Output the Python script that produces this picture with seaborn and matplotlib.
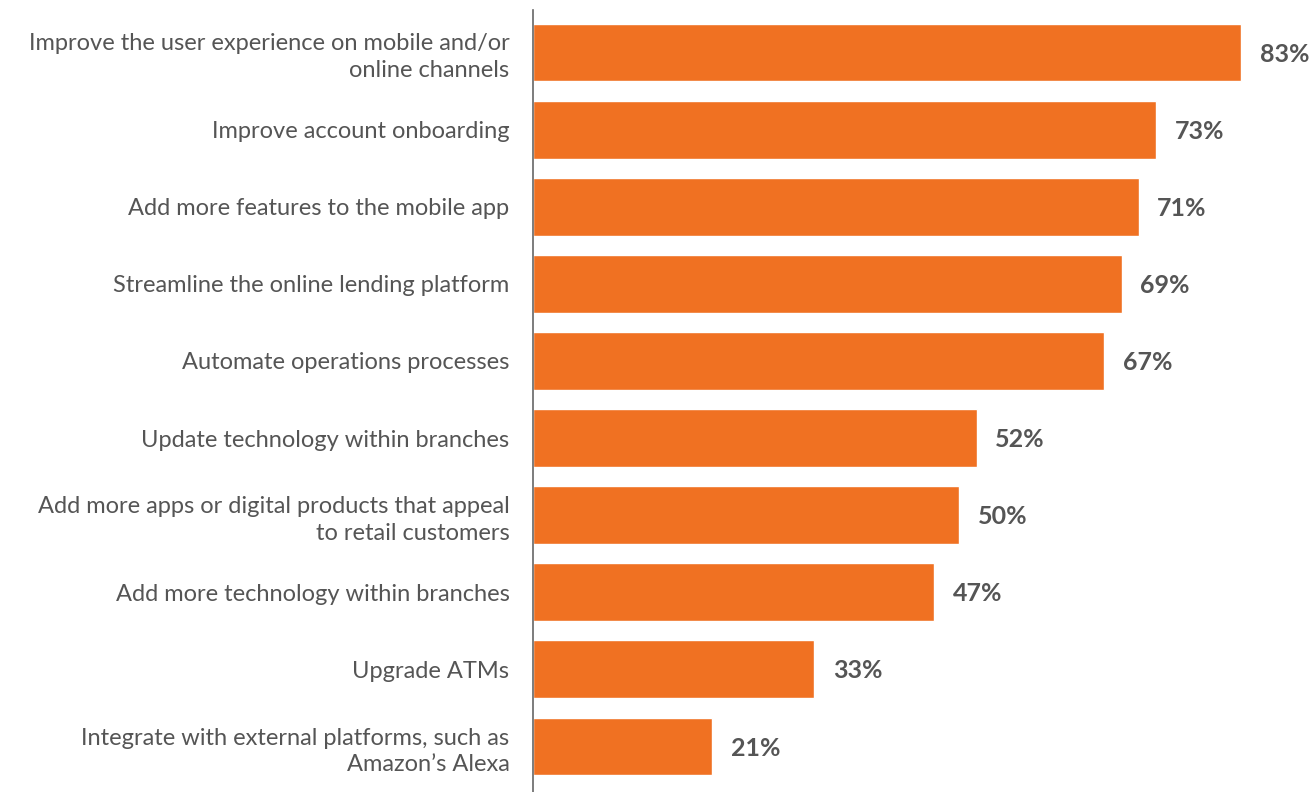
import matplotlib
matplotlib.use("Agg")
import matplotlib.pyplot as plt
import seaborn as sns
import pandas as pd

categories = [
    "Improve the user experience on mobile and/or\nonline channels",
    "Improve account onboarding",
    "Add more features to the mobile app",
    "Streamline the online lending platform",
    "Automate operations processes",
    "Update technology within branches",
    "Add more apps or digital products that appeal\nto retail customers",
    "Add more technology within branches",
    "Upgrade ATMs",
    "Integrate with external platforms, such as\nAmazon\u2019s Alexa",
]
values = [83, 73, 71, 69, 67, 52, 50, 47, 33, 21]

BAR_COLOR = "#F07122"
TEXT_COLOR = "#555555"

sns.set_theme(style="white")
plt.rcParams["font.family"] = ["Lato", "DejaVu Sans"]

df = pd.DataFrame({"category": categories, "value": values})

fig = plt.figure(figsize=(13.16, 7.92), dpi=100)
ax = fig.add_axes([533 / 1316, 0, 1 - 533 / 1316, 1 - 10 / 792])

sns.barplot(data=df, x="value", y="category", color=BAR_COLOR, width=0.75,
            saturation=1, ax=ax, orient="h")

for i, v in enumerate(values):
    ax.text(v + 2.2, i + 0.02, f"{v}%", va="center", ha="left", fontsize=18,
            fontweight="bold", color=TEXT_COLOR)

ax.set_xlim(0, 91.8)
ax.set_ylim(9.59, -0.551)
ax.set_xlabel("")
ax.set_ylabel("")
ax.set_xticks([])
ax.tick_params(axis="y", length=0, pad=17, labelsize=17, labelcolor=TEXT_COLOR)
for lbl in ax.get_yticklabels():
    lbl.set_multialignment("right")
    lbl.set_linespacing(1.35)
for s in ["top", "right", "bottom"]:
    ax.spines[s].set_visible(False)
ax.spines["left"].set_color("#666666")
ax.spines["left"].set_linewidth(1.2)

fig.savefig("out.png", dpi=100)
